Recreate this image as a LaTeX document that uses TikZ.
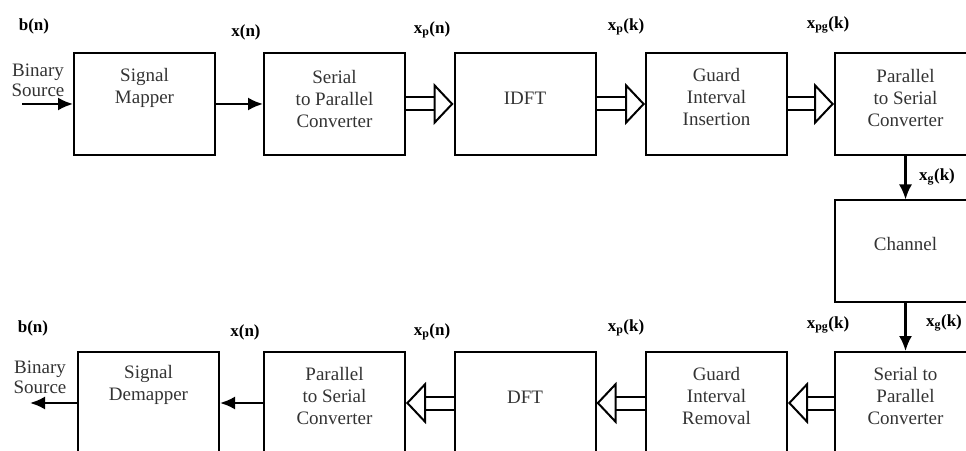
\documentclass[tikz,border=0pt]{standalone}
\usepackage{fontspec}
\setmainfont{Liberation Serif}
\usetikzlibrary{arrows.meta}

\tikzset{
    blk/.style={draw, line width=2pt, minimum width=141pt, minimum height=102pt},
    txt/.style={align=center, text=black!80, font=\fontsize{19}{22}\selectfont},
    sig/.style={font=\bfseries\fontsize{17}{20}\selectfont},
    wire/.style={line width=2.2pt, -{Latex[length=15pt,width=13pt]}},
    bus/.style={double, double distance=11pt, line width=2pt,
        -{Triangle[open, fill=white, length=20pt, width=42pt]}},
}

\begin{document}
\begin{tikzpicture}[x=1pt, y=1pt]
    \clip (0,0) rectangle (966,450);
    % transmitter
    \node[blk, label={[txt, yshift=16pt]center:Signal\\Mapper}] (map) at (144.5,346) {};
    \node[blk, label={[txt, yshift=5pt]center:Serial\\to Parallel\\Converter}] (s2p) at (334.5,346) {};
    \node[blk, label={[txt, yshift=6pt]center:IDFT}] (idft) at (525,346) {};
    \node[blk, label={[txt, yshift=7pt]center:Guard\\Interval\\Insertion}] (gii) at (716.5,346) {};
    \node[blk, label={[txt, yshift=6pt]center:Parallel\\to Serial\\Converter}] (p2s) at (905.5,346) {};
    \node[blk, label={[txt, yshift=7pt]center:Channel}] (chan) at (905.5,198.5) {};
    % receiver
    \node[blk, label={[txt, yshift=7pt]center:Serial to\\Parallel\\Converter}] (s2pr) at (905.5,47) {};
    \node[blk, label={[txt, yshift=7pt]center:Guard\\Interval\\Removal}] (gir) at (716.5,47) {};
    \node[blk, label={[txt, yshift=6pt]center:DFT}] (dft) at (525,47) {};
    \node[blk, label={[txt, yshift=7pt]center:Parallel\\to Serial\\Converter}] (p2sr) at (334.5,47) {};
    \node[blk, label={[txt, yshift=18pt]center:Signal\\Demapper}] (demap) at (148.5,47) {};

    \node[txt, font=\fontsize{19}{20}\selectfont] (src) at (38,370) {Binary\\Source};
    \node[txt, font=\fontsize{19}{20}\selectfont] (sink) at (40,73) {Binary\\Source};
    \coordinate (in) at (22,346);
    \coordinate (out) at (30,47);

    % signal names
    \node[sig] (b1) at (34,424) {b(n)};
    \node[sig] (x1) at (246,418) {x(n)};
    \node[sig] (xpn1) at (432,420) {x\textsubscript{p}(n)};
    \node[sig] (xpk1) at (626,423) {x\textsubscript{p}(k)};
    \node[sig] (xpg1) at (828,425) {x\textsubscript{pg}(k)};
    \node[sig] (xg1) at (937,273) {x\textsubscript{g}(k)};
    \node[sig] (b2) at (33,122) {b(n)};
    \node[sig] (x2) at (245,118) {x(n)};
    \node[sig] (xpn2) at (432,118) {x\textsubscript{p}(n)};
    \node[sig] (xpk2) at (626,122) {x\textsubscript{p}(k)};
    \node[sig] (xpg2) at (828,125) {x\textsubscript{pg}(k)};
    \node[sig] (xg2) at (944,127) {x\textsubscript{g}(k)};

    \draw[wire] (in) -- (map);
    \draw[wire] (map) -- (s2p);
    \draw[bus] (s2p) -- (idft);
    \draw[bus] (idft) -- (gii);
    \draw[bus] (gii) -- (p2s);
    \draw[wire] (p2s) -- (chan);
    \draw[wire] (chan) -- (s2pr);
    \draw[bus] (s2pr) -- (gir);
    \draw[bus] (gir) -- (dft);
    \draw[bus] (dft) -- (p2sr);
    \draw[wire] (p2sr) -- (demap);
    \draw[wire] (demap) -- (out);
\end{tikzpicture}
\end{document}
